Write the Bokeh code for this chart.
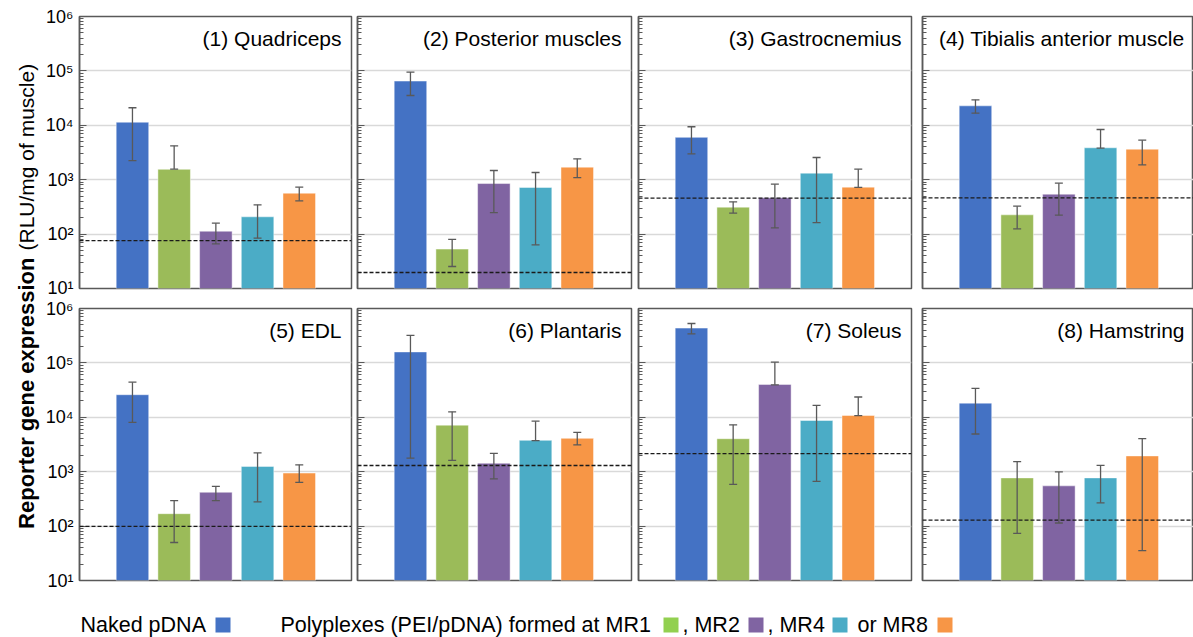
import math
from bokeh.plotting import figure
from bokeh.models import (Range1d, FixedTicker, CustomJSTickFormatter, Whisker, TeeHead,
                          ColumnDataSource, Span, Label)
from bokeh.layouts import row, column
from bokeh.embed import file_html
from bokeh.resources import INLINE

FONT = "Liberation Sans"

# ---------------- data ----------------
muscles = ["(1) Quadriceps", "(2) Posterior muscles", "(3) Gastrocnemius",
           "(4) Tibialis anterior muscle", "(5) EDL", "(6) Plantaris",
           "(7) Soleus", "(8) Hamstring"]
groups = ["Naked pDNA", "MR1", "MR2", "MR4", "MR8"]

# mean expression (RLU/mg of muscle), order: naked, MR1, MR2, MR4, MR8
m1 = [1.14e4, 1.55e3, 113, 208, 565]
m2 = [6.5e4, 53, 850, 720, 1700]
m3 = [6.0e3, 313, 465, 1320, 730]
m4 = [2.28e4, 226, 542, 3860, 3640]
m5 = [2.6e4, 169, 419, 1250, 944]
m6 = [1.59e5, 7170, 1430, 3770, 4100]
m7 = [4.36e5, 4040, 4.02e4, 8730, 1.08e4]
m8 = [1.82e4, 769, 549, 769, 1950]

# upper end of error bars
u1 = [2.1e4, 4.2e3, 159, 345, 729]
u2 = [9.5e4, 80, 1475, 1356, 2420]
u3 = [9.4e3, 392, 828, 2560, 1563]
u4 = [2.94e4, 326, 863, 8370, 5330]
u5 = [4.42e4, 295, 539, 2210, 1340]
u6 = [3.2e5, 1.26e4, 2180, 8490, 5270]
u7 = [5.3e5, 7280, 1.03e5, 1.66e4, 2.36e4]
u8 = [3.39e4, 1530, 991, 1310, 4050]

# lower end of error bars
l1 = [2.25e3, 1.57e3, 66, 84, 409]
l2 = [3.53e4, 25.4, 249, 63.6, 1096]
l3 = [2.99e3, 243, 130, 163, 722]
l4 = [1.67e4, 125, 223, 3800, 1870]
l5 = [8.1e3, 50, 295, 279, 637]
l6 = [1.77e3, 1620, 741, 3720, 3100]
l7 = [3.43e5, 583, 3.95e4, 662, 1.07e4]
l8 = [4.93e3, 73.5, 114, 268, 35.4]

# background level (dashed line)
background = [76, 19.7, 458, 462, 99, 1300, 2150, 129]

means = [m1, m2, m3, m4, m5, m6, m7, m8]
uppers = [u1, u2, u3, u4, u5, u6, u7, u8]
lowers = [l1, l2, l3, l4, l5, l6, l7, l8]

tick_values = [1e1, 1e2, 1e3, 1e4, 1e5, 1e6]
minor_values = [k * 10 ** n for n in range(1, 6) for k in range(2, 10)]

colors = ["#4472C4", "#9BBB59", "#8064A2", "#4BACC6", "#F79646"]
legend_colors = ["#4472C4", "#92D050", "#8064A2", "#4BACC6", "#F79646"]

EDGE = "#595959"
PITCH = 41.7
X0 = -1.27

SUP_CODE = """
const sup = ['\\u2070','\\u00b9','\\u00b2','\\u00b3','\\u2074','\\u2075','\\u2076'];
const e = Math.round(Math.log10(tick));
return '10' + sup[e];
"""


def panel(i, width, height, mbl, mbr, mbt, mbb, show_labels, title_pad):
    fw = width - mbl - mbr
    fh = height - mbt - mbb
    xend = X0 + fw / PITCH
    p = figure(width=width, height=height, y_axis_type="log",
               x_range=Range1d(X0, xend), y_range=Range1d(10, 1e6),
               x_axis_location=None, toolbar_location=None, output_backend="svg",
               min_border_left=mbl, min_border_right=mbr,
               min_border_top=mbt, min_border_bottom=mbb,
               background_fill_color="white", border_fill_color="white")
    p.outline_line_color = EDGE
    p.outline_line_width = 1.5
    p.xgrid.visible = False
    p.ygrid.grid_line_color = "#d9d9d9"
    p.ygrid.grid_line_width = 1.5

    ax = p.yaxis[0]
    ax.ticker = FixedTicker(ticks=tick_values, minor_ticks=minor_values)
    ax.major_tick_in = 7
    ax.major_tick_out = 0
    ax.minor_tick_in = 4
    ax.minor_tick_out = 0
    ax.major_tick_line_color = EDGE
    ax.minor_tick_line_color = EDGE
    ax.axis_line_color = EDGE
    ax.axis_line_width = 1.5
    ax.major_label_text_font = FONT
    ax.major_label_text_font_size = "18px"
    ax.major_label_text_color = "black"
    if show_labels:
        ax.formatter = CustomJSTickFormatter(code=SUP_CODE)
        ax.major_label_standoff = 6
    else:
        ax.formatter = CustomJSTickFormatter(code="return '';")
        ax.major_label_standoff = 0

    src = ColumnDataSource(dict(x=list(range(len(groups))), top=means[i],
                                upper=uppers[i], lower=lowers[i], color=colors))
    p.vbar(x="x", top="top", bottom=10, width=0.78, fill_color="color",
           line_color="white", line_alpha=0.45, line_width=1, source=src)

    p.add_layout(Span(location=background[i], dimension="width", line_color="#1a1a1a",
                      line_dash="4 2", line_width=1.3))

    p.add_layout(Whisker(source=src, base="x", upper="upper", lower="lower",
                         line_color=EDGE, line_width=1.3, level="overlay",
                         upper_head=TeeHead(size=8, line_color=EDGE, line_width=1.3),
                         lower_head=TeeHead(size=8, line_color=EDGE, line_width=1.3)))

    decade = fh / 5.0
    p.add_layout(Label(x=xend, y=10 ** (6 - 21.5 / decade), x_offset=-title_pad,
                       text=muscles[i], text_align="right", text_baseline="alphabetic",
                       text_font=FONT, text_font_size="21px", text_color="black"))
    return p


# column boundaries (page x): 41 | 354 | 634 | 916 | 1193
col_spec = [(313, 38, 3, True, 10), (280, 3, 3, False, 10),
            (282, 4, 5, False, 10), (277, 6, 0, False, 9)]

top_figs = []
bot_figs = []
for c, (w, l, r, lab, pad) in enumerate(col_spec):
    top_figs.append(panel(c, w, 297, l, r, 16, 9, lab, pad))
    bot_figs.append(panel(c + 4, w, 293, l, r, 11, 10, lab, pad))

# ---- y-axis title ----
TH = 637
TW = 41
tf = figure(width=TW, height=TH, x_range=Range1d(0, TW), y_range=Range1d(TH, 0),
            x_axis_location=None, y_axis_location=None, toolbar_location=None,
            output_backend="svg", min_border=0, outline_line_color=None)
tf.xgrid.visible = False
tf.ygrid.visible = False
tf.add_layout(Label(x=26, y=257, angle=math.pi / 2, text="Reporter gene expression",
                    text_align="right", text_baseline="alphabetic", text_font=FONT,
                    text_font_size="22px", text_font_style="bold", text_color="black"))
tf.add_layout(Label(x=26, y=250, angle=math.pi / 2, text="(RLU/mg of muscle)",
                    text_align="left", text_baseline="alphabetic", text_font=FONT,
                    text_font_size="21px", text_color="black"))

# ---- legend strip ----
lf = figure(width=1193 - TW, height=47, x_range=Range1d(TW, 1193), y_range=Range1d(637, 590),
            x_axis_location=None, y_axis_location=None, toolbar_location=None,
            output_backend="svg", min_border=0, outline_line_color=None)
lf.xgrid.visible = False
lf.ygrid.visible = False
legend_texts = ["Naked pDNA", "Polyplexes (PEI/pDNA) formed at MR1", ", MR2", ", MR4", "or MR8"]
legend_text_x = [80, 280, 682, 767, 857]
legend_box_left = [215, 663, 748, 832, 937]
BOX_BOTTOM = 632
TEXT_Y = 624
for t, x in zip(legend_texts, legend_text_x):
    lf.add_layout(Label(x=x, y=TEXT_Y, text=t, text_align="left", text_baseline="alphabetic",
                        text_font=FONT, text_font_size="21.5px", text_color="black"))
lsrc = ColumnDataSource(dict(left=legend_box_left, right=[v + 15 for v in legend_box_left],
                             color=legend_colors))
lf.quad(left="left", right="right", top=BOX_BOTTOM - 15, bottom=BOX_BOTTOM, fill_color="color",
        line_color=None, source=lsrc)

layout = row(tf, column(row(*top_figs), row(*bot_figs), lf))

open("out.html", "w").write(file_html(layout, INLINE))
